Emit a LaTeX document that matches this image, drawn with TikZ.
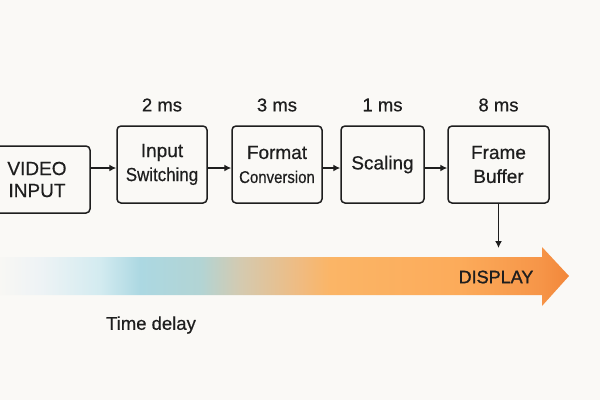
\documentclass[tikz,border=0pt]{standalone}
\usepackage{graphicx}
\usepackage{fontspec}
\setmainfont{Liberation Sans}[FakeBold=0.5]
\newfontfamily\heavyfont{Liberation Sans}[FakeBold=1.2]
\usetikzlibrary{positioning,arrows.meta}
\definecolor{bg}{HTML}{FAF9F6}
\definecolor{ink}{HTML}{1E1E1E}
\definecolor{dlA}{HTML}{F8F7F4}
\definecolor{dlB}{HTML}{EEF3F5}
\definecolor{dlC}{HTML}{D3EBF0}
\definecolor{dlD}{HTML}{ACD8E2}
\definecolor{dlE}{HTML}{B2D4D4}
\definecolor{dlF}{HTML}{D4CAB0}
\definecolor{dlG}{HTML}{F0BB80}
\definecolor{dlH}{HTML}{FBB566}
\definecolor{dlI}{HTML}{FCAB5A}
\definecolor{dlJ}{HTML}{F69548}
\definecolor{dlK}{HTML}{F2873A}
\pgfdeclarehorizontalshading{delay}{100bp}{color(0bp)=(dlA); color(25bp)=(dlA);
  color(28.5bp)=(dlB); color(33.8bp)=(dlC); color(37.3bp)=(dlD); color(42.6bp)=(dlE);
  color(46.1bp)=(dlF); color(51.4bp)=(dlG); color(54bp)=(dlH); color(65.4bp)=(dlI);
  color(72.5bp)=(dlJ); color(75bp)=(dlK); color(100bp)=(dlK)}
\newcommand{\narrowtext}[2]{\scalebox{#1}[1]{#2}}
\begin{document}
\begin{tikzpicture}[x=1pt, y=-1pt,
    stage/.style={draw=ink, line width=1.5pt, rounded corners=4pt, align=center,
      inner sep=0pt, minimum width=90pt, minimum height=77pt, text=ink,
      font=\fontsize{19}{24}\selectfont},
    ms/.style={text=ink, font=\fontsize{18.5}{22}\selectfont},
    flow/.style={-{Latex[length=7pt,width=7pt]}, line width=1.5pt, draw=ink}]
    \fill[bg] (0,0) rectangle (600,400);
    \useasboundingbox (0,0) rectangle (600,400);
    % time delay band
    \shade[shading=delay] (0,257) -- (542,257) -- (542,247) -- (569,276)
        -- (542,306) -- (542,295) -- (0,295) -- cycle;
    \node[ms, font=\heavyfont\fontsize{18}{22}\selectfont] (disp) at (496,277) {DISPLAY};
    \node[ms] (tdel) at (151,325) {Time delay};
    % stages
    \node[stage, minimum width=106pt, minimum height=67pt,
        font=\fontsize{19}{22}\selectfont] (vin) at (37,179.5) {VIDEO\\INPUT};
    \node[stage] (sw) at (162,164.5) {Input\\\narrowtext{0.89}{Switching}};
    \node[stage] (fmt) at (277,164.5) {Format\\{\fontsize{17}{24}\selectfont\narrowtext{0.88}{Conversion}}};
    \node[stage, minimum width=83pt] (scl) at (382.5,164.5) {Scaling};
    \node[stage, minimum width=101pt] (fb) at (498.5,164.5) {Frame\\Buffer};
    % latencies
    \coordinate (lab) at (0,105);
    \node[ms] (lat1) at (sw |- lab) {2 ms};
    \node[ms] (lat2) at (fmt |- lab) {3 ms};
    \node[ms] (lat3) at (scl |- lab) {1 ms};
    \node[ms] (lat4) at (fb |- lab) {8 ms};
    % connectors
    \coordinate (lane) at (0,168);
    \draw[flow] (vin.east |- lane) -- (sw.west |- lane);
    \draw[flow] (sw.east |- lane) -- (fmt.west |- lane);
    \draw[flow] (fmt.east |- lane) -- (scl.west |- lane);
    \draw[flow] (scl.east |- lane) -- (fb.west |- lane);
    \coordinate (fbend) at (0,248);
    \draw[flow] (fb.south) -- (fb.south |- fbend);
\end{tikzpicture}
\end{document}
